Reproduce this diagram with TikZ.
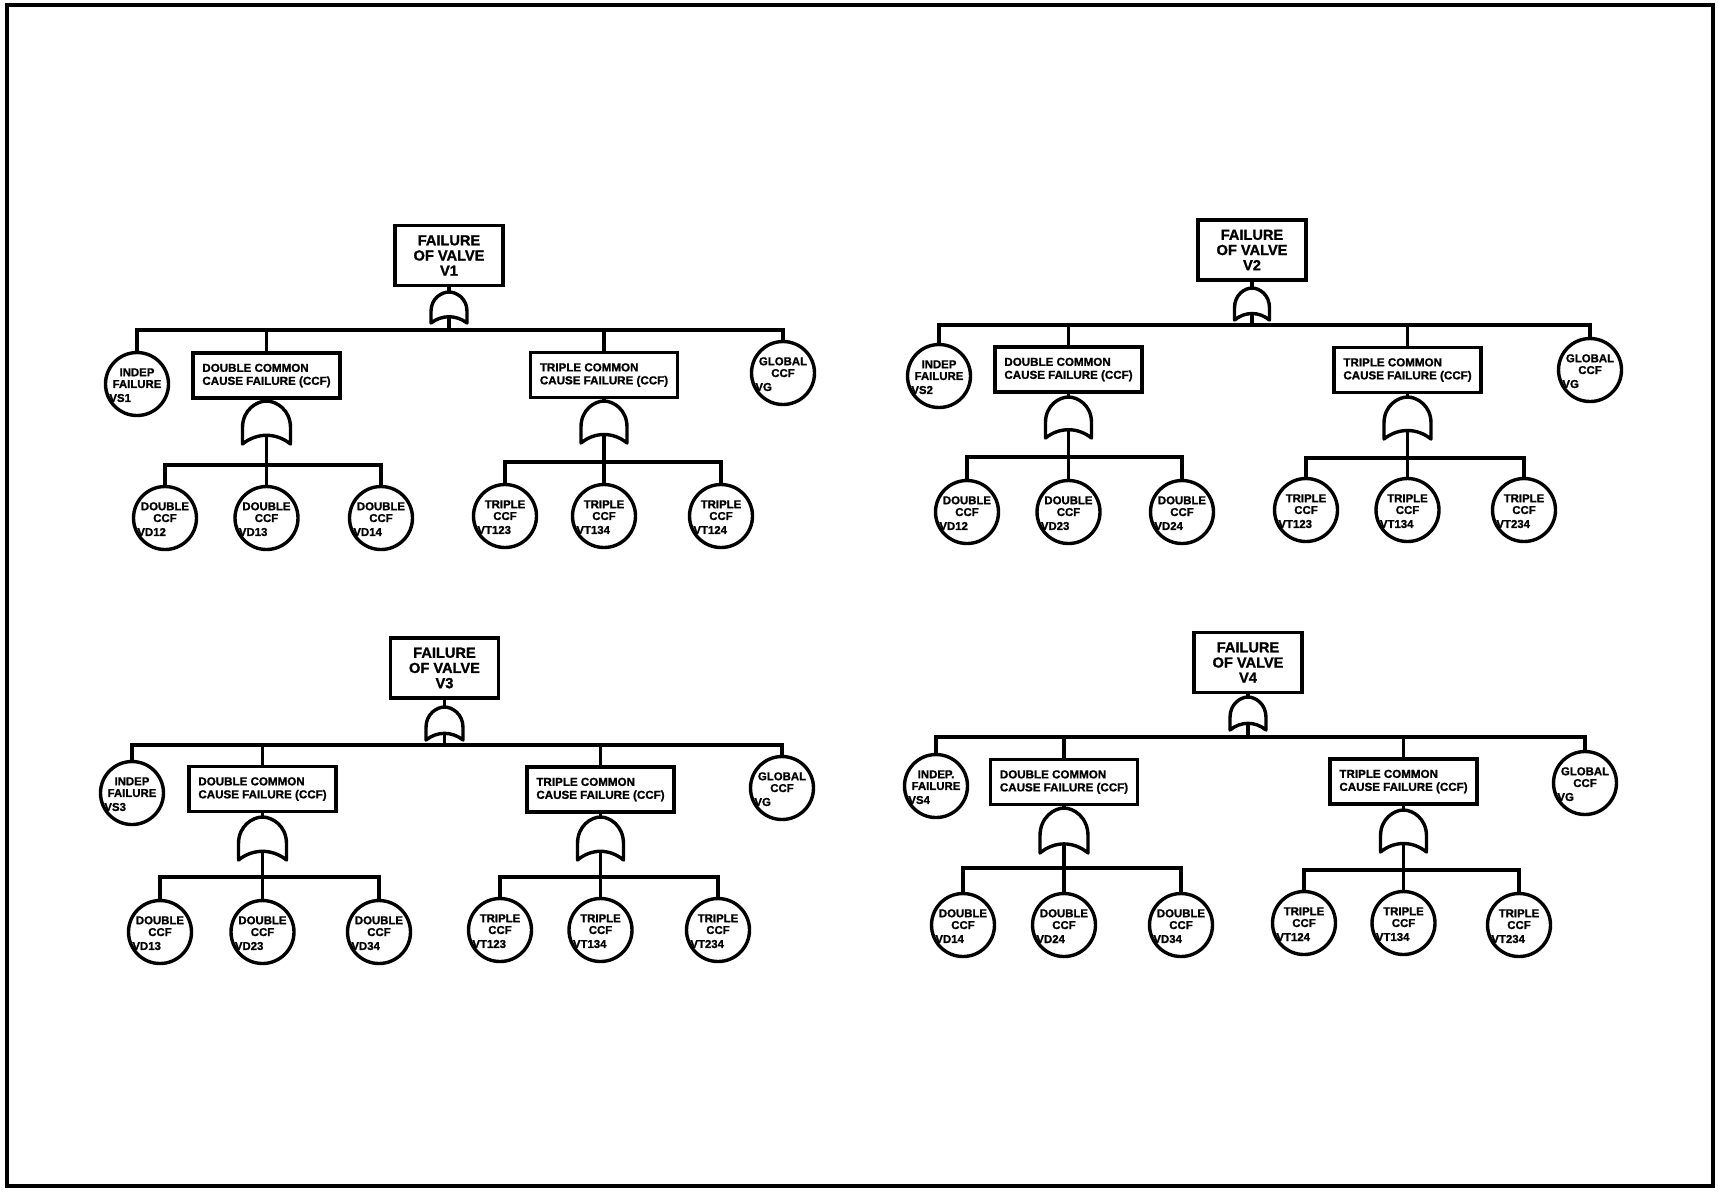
\documentclass[tikz,border=0pt]{standalone}
\usepackage{fontspec}
\setmainfont[BoldFeatures={FakeBold=1.3}]{Liberation Sans}
\tikzset{
  lw/.style={line width=1.7pt},
  topbox/.style={draw, lw, minimum width=54pt, minimum height=30pt, inner sep=1pt, align=center, font=\bfseries\fontsize{7.3}{7.6}\selectfont},
  midbox/.style={draw, lw, minimum width=73.5pt, minimum height=22.5pt, inner xsep=3pt, inner ysep=1pt, align=left, font=\bfseries\fontsize{5.8}{6.5}\selectfont},
  evt/.style={draw, lw, circle, minimum size=31.5pt, inner sep=0pt},
  evttext/.style={align=center, inner sep=0pt, font=\bfseries\fontsize{5.7}{5.9}\selectfont},
  idtext/.style={anchor=west, inner sep=0pt, font=\bfseries\fontsize{5.7}{5.9}\selectfont},
  conn/.style={lw},
  gateshape/.style={lw, line join=round},
  framebox/.style={line width=2pt}
}
\newcommand\mkevt[5]{%
  \node[evt] (#1) at (#2,#3) {};
  \node[evttext] (#1-t) at ([yshift=2.9pt]#1.center) {#4};
  \node[idtext] (#1-i) at ([xshift=-14pt,yshift=-7pt]#1.center) {#5};
}
\newcommand\mkgate[5]{%
  \coordinate (#1-top) at (#2,#3);
  \coordinate (#1-base) at (#2,{#3+0.8*#5});
  \draw[gateshape] ({#2-#4/2},{#3+#5}) -- ({#2-#4/2},{#3+0.62*#5})
    .. controls ({#2-#4/2},{#3+0.2*#5}) and ({#2-0.2*#4},{#3}) .. (#1-top)
    .. controls ({#2+0.2*#4},{#3}) and ({#2+#4/2},{#3+0.2*#5}) .. ({#2+#4/2},{#3+0.62*#5})
    -- ({#2+#4/2},{#3+#5})
    .. controls ({#2+0.2*#4},{#3+0.73*#5}) and ({#2-0.2*#4},{#3+0.73*#5}) .. cycle;
}
\begin{document}
\begin{tikzpicture}[x=0.5pt,y=-0.5pt]
\useasboundingbox (0,0) rectangle (1718,1191);
\draw[framebox] (7,5) rectangle (1713,1186);

%% ---------------- V1 ----------------
\node[topbox] (v1) at (449,255.5) {FAILURE\\OF VALVE\\V1};
\mkgate{v1g}{449}{292}{36}{31}
\draw[conn] (v1.south) -- (v1g-top);
\coordinate (v1b) at (449,330);
\draw[conn] (v1g-base) -- (v1b);
\mkevt{v1s}{137}{384}{INDEP\\FAILURE}{VS1}
\node[midbox] (v1d) at (266.5,375.5) {DOUBLE COMMON\\CAUSE FAILURE (CCF)};
\node[midbox] (v1t) at (604,375) {TRIPLE COMMON\\CAUSE FAILURE (CCF)};
\mkevt{v1gl}{783}{373}{GLOBAL\\CCF}{VG}
\foreach \nm in {v1s,v1d,v1t,v1gl} \draw[conn] (v1b) -| (\nm.north);
\mkgate{v1dg}{266.5}{401}{48}{43}
\draw[conn] (v1d.south) -- (v1dg-top);
\coordinate (v1db) at (266.5,465);
\draw[conn] (v1dg-base) -- (v1db);
\mkevt{v1d1}{165}{518}{DOUBLE\\CCF}{VD12}
\mkevt{v1d2}{266.5}{518}{DOUBLE\\CCF}{VD13}
\mkevt{v1d3}{381}{518}{DOUBLE\\CCF}{VD14}
\foreach \nm in {v1d1,v1d2,v1d3} \draw[conn] (v1db) -| (\nm.north);
\mkgate{v1tg}{604}{401}{46}{42}
\draw[conn] (v1t.south) -- (v1tg-top);
\coordinate (v1tb) at (604,462);
\draw[conn] (v1tg-base) -- (v1tb);
\mkevt{v1t1}{505}{516}{TRIPLE\\CCF}{VT123}
\mkevt{v1t2}{604}{516}{TRIPLE\\CCF}{VT134}
\mkevt{v1t3}{721}{516}{TRIPLE\\CCF}{VT124}
\foreach \nm in {v1t1,v1t2,v1t3} \draw[conn] (v1tb) -| (\nm.north);

%% ---------------- V2 ----------------
\node[topbox] (v2) at (1252,250) {FAILURE\\OF VALVE\\V2};
\mkgate{v2g}{1252}{288}{35}{32}
\draw[conn] (v2.south) -- (v2g-top);
\coordinate (v2b) at (1252,325);
\draw[conn] (v2g-base) -- (v2b);
\mkevt{v2s}{939}{376}{INDEP\\FAILURE}{VS2}
\node[midbox] (v2d) at (1068.5,369.5) {DOUBLE COMMON\\CAUSE FAILURE (CCF)};
\node[midbox] (v2t) at (1407.5,370) {TRIPLE COMMON\\CAUSE FAILURE (CCF)};
\mkevt{v2gl}{1590}{370}{GLOBAL\\CCF}{VG}
\foreach \nm in {v2s,v2d,v2t,v2gl} \draw[conn] (v2b) -| (\nm.north);
\mkgate{v2dg}{1068.5}{397}{46}{41}
\draw[conn] (v2d.south) -- (v2dg-top);
\coordinate (v2db) at (1068.5,457);
\draw[conn] (v2dg-base) -- (v2db);
\mkevt{v2d1}{967}{512}{DOUBLE\\CCF}{VD12}
\mkevt{v2d2}{1068.5}{512}{DOUBLE\\CCF}{VD23}
\mkevt{v2d3}{1182}{512}{DOUBLE\\CCF}{VD24}
\foreach \nm in {v2d1,v2d2,v2d3} \draw[conn] (v2db) -| (\nm.north);
\mkgate{v2tg}{1407.5}{397}{47}{42}
\draw[conn] (v2t.south) -- (v2tg-top);
\coordinate (v2tb) at (1407.5,458);
\draw[conn] (v2tg-base) -- (v2tb);
\mkevt{v2t1}{1306}{510}{TRIPLE\\CCF}{VT123}
\mkevt{v2t2}{1407.5}{510}{TRIPLE\\CCF}{VT134}
\mkevt{v2t3}{1524}{510}{TRIPLE\\CCF}{VT234}
\foreach \nm in {v2t1,v2t2,v2t3} \draw[conn] (v2tb) -| (\nm.north);

%% ---------------- V3 ----------------
\node[topbox] (v3) at (444.5,668) {FAILURE\\OF VALVE\\V3};
\mkgate{v3g}{444.5}{707}{37}{33}
\draw[conn] (v3.south) -- (v3g-top);
\coordinate (v3b) at (444.5,745);
\draw[conn] (v3g-base) -- (v3b);
\mkevt{v3s}{132}{793}{INDEP\\FAILURE}{VS3}
\node[midbox] (v3d) at (262.5,789) {DOUBLE COMMON\\CAUSE FAILURE (CCF)};
\node[midbox] (v3t) at (600.5,789.5) {TRIPLE COMMON\\CAUSE FAILURE (CCF)};
\mkevt{v3gl}{782}{788}{GLOBAL\\CCF}{VG}
\foreach \nm in {v3s,v3d,v3t,v3gl} \draw[conn] (v3b) -| (\nm.north);
\mkgate{v3dg}{262.5}{817}{48}{43}
\draw[conn] (v3d.south) -- (v3dg-top);
\coordinate (v3db) at (262.5,877);
\draw[conn] (v3dg-base) -- (v3db);
\mkevt{v3d1}{160}{932}{DOUBLE\\CCF}{VD13}
\mkevt{v3d2}{262.5}{932}{DOUBLE\\CCF}{VD23}
\mkevt{v3d3}{379}{932}{DOUBLE\\CCF}{VD34}
\foreach \nm in {v3d1,v3d2,v3d3} \draw[conn] (v3db) -| (\nm.north);
\mkgate{v3tg}{600.5}{817}{46}{43}
\draw[conn] (v3t.south) -- (v3tg-top);
\coordinate (v3tb) at (600.5,877);
\draw[conn] (v3tg-base) -- (v3tb);
\mkevt{v3t1}{500}{930}{TRIPLE\\CCF}{VT123}
\mkevt{v3t2}{600.5}{930}{TRIPLE\\CCF}{VT134}
\mkevt{v3t3}{718}{930}{TRIPLE\\CCF}{VT234}
\foreach \nm in {v3t1,v3t2,v3t3} \draw[conn] (v3tb) -| (\nm.north);

%% ---------------- V4 ----------------
\node[topbox] (v4) at (1248,662.5) {FAILURE\\OF VALVE\\V4};
\mkgate{v4g}{1248}{697}{36}{33}
\draw[conn] (v4.south) -- (v4g-top);
\coordinate (v4b) at (1248,737);
\draw[conn] (v4g-base) -- (v4b);
\mkevt{v4s}{936}{786}{INDEP.\\FAILURE}{VS4}
\node[midbox] (v4d) at (1064,782) {DOUBLE COMMON\\CAUSE FAILURE (CCF)};
\node[midbox] (v4t) at (1403.5,781.5) {TRIPLE COMMON\\CAUSE FAILURE (CCF)};
\mkevt{v4gl}{1585}{783}{GLOBAL\\CCF}{VG}
\foreach \nm in {v4s,v4d,v4t,v4gl} \draw[conn] (v4b) -| (\nm.north);
\mkgate{v4dg}{1064}{808}{48}{45}
\draw[conn] (v4d.south) -- (v4dg-top);
\coordinate (v4db) at (1064,868);
\draw[conn] (v4dg-base) -- (v4db);
\mkevt{v4d1}{963}{925}{DOUBLE\\CCF}{VD14}
\mkevt{v4d2}{1064}{925}{DOUBLE\\CCF}{VD24}
\mkevt{v4d3}{1181}{925}{DOUBLE\\CCF}{VD34}
\foreach \nm in {v4d1,v4d2,v4d3} \draw[conn] (v4db) -| (\nm.north);
\mkgate{v4tg}{1403.5}{810}{46}{42}
\draw[conn] (v4t.south) -- (v4tg-top);
\coordinate (v4tb) at (1403.5,870);
\draw[conn] (v4tg-base) -- (v4tb);
\mkevt{v4t1}{1304}{923}{TRIPLE\\CCF}{VT124}
\mkevt{v4t2}{1403.5}{923}{TRIPLE\\CCF}{VT134}
\mkevt{v4t3}{1519}{925}{TRIPLE\\CCF}{VT234}
\foreach \nm in {v4t1,v4t2,v4t3} \draw[conn] (v4tb) -| (\nm.north);
\end{tikzpicture}
\end{document}
